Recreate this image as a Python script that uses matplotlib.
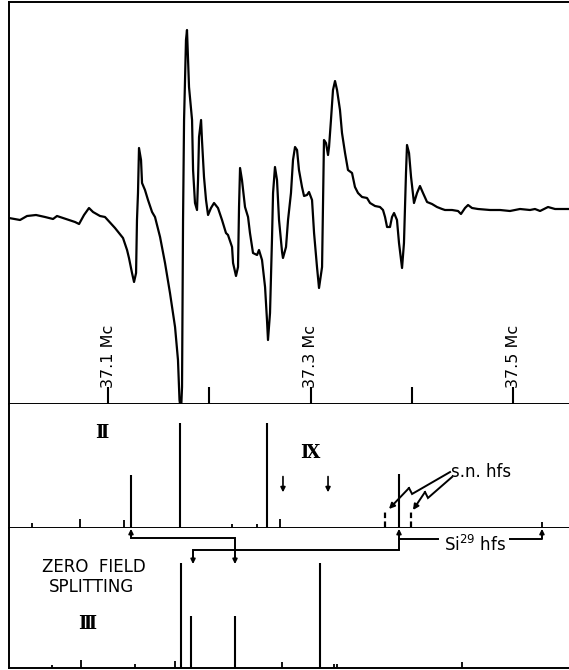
import matplotlib
matplotlib.use("Agg")
import matplotlib.pyplot as plt
import matplotlib.transforms as mtransforms

# ---------------- data ----------------
# frequency axis: kc above 37.0 Mc
trace_kc = [2.2, 13.1, 20.0, 28.9, 37.8, 45.7, 49.6, 58.5, 67.4, 71.4, 76.3, 81.2, 85.2, 92.1, 97.0,
            106.9, 114.8, 118.8, 120.7, 123.7, 125.7, 127.7, 128.6, 129.6, 130.6, 132.6, 133.6, 136.5,
            139.5, 143.5, 146.4, 151.4, 156.3, 161.2, 166.2, 169.1, 170.6, 172.1, 173.1, 174.1, 175.1,
            177.0, 178.0, 179.0, 180.0, 183.0, 184.0, 185.9, 187.9, 188.9, 189.9, 191.9, 192.8, 194.8,
            196.8, 198.8, 201.7, 204.7, 208.6, 212.6, 216.5, 218.5, 222.5, 223.5, 226.4, 228.4, 229.4,
            230.4, 232.3, 235.3, 238.3, 240.2, 243.2, 247.2, 249.1, 252.1, 255.1, 257.0, 258.0, 260.0,
            262.0, 263.0, 264.9, 266.9, 268.9, 271.9, 272.8, 275.8, 277.8, 280.7, 282.7, 284.7, 286.7,
            288.6, 291.6, 293.6, 296.5, 298.5, 301.5, 303.5, 306.4, 308.4, 311.4, 312.3, 313.3, 315.3,
            317.3, 318.3, 320.2, 322.2, 324.2, 326.2, 329.1, 331.1, 334.1, 337.0, 341.0, 343.9, 346.9,
            350.9, 355.8, 358.8, 363.7, 368.6, 371.6, 373.6, 375.6, 378.5, 380.5, 382.5, 385.4, 387.4,
            390.4, 392.3, 394.3, 395.3, 397.3, 399.3, 402.2, 405.2, 408.1, 411.1, 415.1, 420.0, 424.9,
            429.9, 432.8, 439.8, 445.7, 448.6, 452.6, 455.6, 459.5, 465.4, 477.3, 487.2, 497.0, 506.9,
            516.8, 521.7, 526.7, 534.6, 541.5, 548.4, 555.3]
trace_amp = [-2, -4, 0, 1, -1, -3, 0, -3, -6, -8, 1, 8, 4, 0, -1,
             -12, -22, -34, -42, -57, -66, -57, -4, 23, 68, 56, 33, 26,
             16, 4, -1, -21, -47, -77, -111, -144, -184, -196, -171, -4, 96,
             176, 186, 156, 129, 96, 46, 13, 6, 36, 79, 96, 76, 39,
             16, 1, 8, 13, 8, -4, -17, -19, -31, -47, -60, -51, 9,
             48, 36, 9, -1, -17, -37, -39, -34, -44, -71, -104, -124, -97,
             -21, 23, 49, 36, -4, -36, -42, -31, -4, 23, 56, 69, 66,
             46, 29, 20, 21, 24, 16, -17, -51, -72, -51, 6, 76, 73,
             61, 69, 96, 126, 135, 126, 106, 83, 63, 46, 43, 29, 23,
             19, 18, 13, 10, 9, 6, -1, -11, -11, -1, 3, -4, -27,
             -52, -27, 43, 71, 63, 39, 13, 23, 30, 23, 14, 12, 9,
             7, 6, 6, 5, 2, 8, 11, 8, 7, 6, 6, 5, 7,
             6, 7, 5, 9, 7, 7, 7]

freq_ticks_kc = [100, 200, 300, 400, 500]
freq_labels = {100: "37.1 Mc", 300: "37.3 Mc", 500: "37.5 Mc"}

# spectrum II / IX (stick diagram)
lines2_kc = [122.7, 171.1, 257.0, 387.4]
lines2_int = [0.505, 1.0, 1.0, 0.514]
marks2_kc = [24.9, 72.3, 115.8, 222.5, 247.2, 269.9, 528.6]
marks2_h = [0.05, 0.086, 0.08, 0.04, 0.04, 0.086, 0.06]
ix_arrows_kc = [272.8, 317.3]
sn_hfs_kc = [373.6, 399.3]

# zero field splitting III
lines3_kc = [172.1, 182.0, 225.4, 309.4]
lines3_int = [1.0, 0.50, 0.50, 1.0]
marks3_kc = [44.7, 73.3, 126.7, 166.2, 271.9, 323.2, 326.2, 449.6]
marks3_h = [0.03, 0.076, 0.04, 0.067, 0.057, 0.04, 0.04, 0.057]

# ---------------- figure ----------------
W, H = 569, 670
fig = plt.figure(figsize=(W / 100, H / 100), dpi=100)
fig.patch.set_facecolor("white")
left = 9 / W
xl = (2.2, 555.3)

def fa(top_px, bot_px):
    return [left, (H - bot_px) / H, 1 - left, (bot_px - top_px) / H]

ax1 = fig.add_axes(fa(2, 404))
ax2 = fig.add_axes(fa(404, 528))
ax3 = fig.add_axes(fa(528, 668))

LW = 1.5
for ax in (ax1, ax2, ax3):
    ax.set_xlim(*xl)
    ax.spines["right"].set_visible(False)
    for s in ax.spines.values():
        s.set_linewidth(1.4)
    ax.set_yticks([])
ax2.spines["top"].set_visible(False)
ax3.spines["top"].set_visible(False)
ax2.set_xticks([])
ax3.set_xticks([])

# ---- panel 1: derivative trace ----
ax1.plot(trace_kc, trace_amp, color="black", lw=1.6, solid_joinstyle="round")
ax1.set_ylim(-188, 214)
ax1.set_xticks(freq_ticks_kc)
ax1.tick_params(axis="x", direction="in", length=12, width=1.5, labelbottom=False, top=False)
tr = mtransforms.blended_transform_factory(ax1.transData, ax1.transAxes)
for k, lab in freq_labels.items():
    ax1.text(k, 16 / 402, lab, rotation=90, ha="center", va="bottom",
             fontsize=11.5, transform=tr, family="DejaVu Sans")

# ---- panel 2 ----
ax2.set_ylim(0, 124 / 105)
ax2.vlines(lines2_kc, 0, lines2_int, color="black", lw=LW)
ax2.vlines(marks2_kc, 0, marks2_h, color="black", lw=1.3)
ax2.vlines(sn_hfs_kc, 0.01, 0.17, color="black", lw=1.6, linestyles=(0, (2.5, 1.5)))
for k in ix_arrows_kc:
    ax2.annotate("", xy=(k, 0.34), xytext=(k, 0.49),
                 arrowprops=dict(arrowstyle="-|>", lw=1.2, color="black",
                                 mutation_scale=7, shrinkA=0, shrinkB=0))
roman = dict(family=["DejaVu Serif", "DejaVu Sans"], fontweight="bold", fontsize=13,
             ha="center", va="center")
ax2.text(94.1, 0.905, "Ⅱ", **roman)
ax2.text(299.5, 0.714, "Ⅸ", **roman)
ax2.text(438.8, 0.533, "s.n. hfs", fontsize=12, ha="left", va="center")

# lightning-bolt arrows (pixel readings converted to kc / intensity)
bolts = [[(437.8, 0.533), (400.3, 0.324), (397.3, 0.381), (377.5, 0.181)],
         [(439.8, 0.486), (416.0, 0.286), (413.1, 0.343), (401.2, 0.171)]]
for b in bolts:
    xs, ys = zip(*b[:-1])
    ax2.plot(xs, ys, color="black", lw=1.4, solid_joinstyle="miter")
    ax2.annotate("", xy=b[-1], xytext=b[-2],
                 arrowprops=dict(arrowstyle="-|>", lw=1.4, color="black",
                                 mutation_scale=8, shrinkA=0, shrinkB=0))

# ---- panel 3 ----
ax3.set_ylim(0, 140 / 105)
ax3.vlines(lines3_kc, 0, lines3_int, color="black", lw=LW)
ax3.vlines(marks3_kc, 0, marks3_h, color="black", lw=1.3)
ax3.text(86.0, 0.962, "ZERO  FIELD", fontsize=12, ha="center", va="center")
ax3.text(84.0, 0.772, "SPLITTING", fontsize=12, ha="center", va="center")
ax3.text(79.0, 0.42, "Ⅲ", **roman)

def connector(ax, pts, up_start=True, down_end=True):
    xs, ys = zip(*pts)
    ax.plot(xs, ys, color="black", lw=1.4, solid_joinstyle="miter")
    ap = dict(arrowstyle="-|>", lw=1.2, color="black", mutation_scale=7, shrinkA=0, shrinkB=0)
    if up_start:
        ax.annotate("", xy=(pts[0][0], 1.325), xytext=pts[0], arrowprops=ap)
    if down_end:
        ax.annotate("", xy=(pts[-1][0], pts[-1][1] - 0.07), xytext=pts[-1], arrowprops=ap)

connector(ax3, [(122.7, 1.27), (122.7, 1.238), (225.4, 1.238), (225.4, 1.06)])
connector(ax3, [(387.4, 1.27), (387.4, 1.124), (183.95, 1.124), (183.95, 1.06)])
# Si29 hyperfine bracket
ax3.plot([387.4, 425.9], [1.229, 1.229], color="black", lw=1.4)
ax3.plot([497.0, 528.6, 528.6], [1.229, 1.229, 1.27], color="black", lw=1.4)
ax3.annotate("", xy=(528.6, 1.325), xytext=(528.6, 1.27),
             arrowprops=dict(arrowstyle="-|>", lw=1.2, color="black",
                             mutation_scale=7, shrinkA=0, shrinkB=0))
ax3.text(462.0, 1.17, "Si$^{29}$ hfs", fontsize=12, ha="center", va="center")

fig.savefig("out.png", dpi=100, facecolor="white")
